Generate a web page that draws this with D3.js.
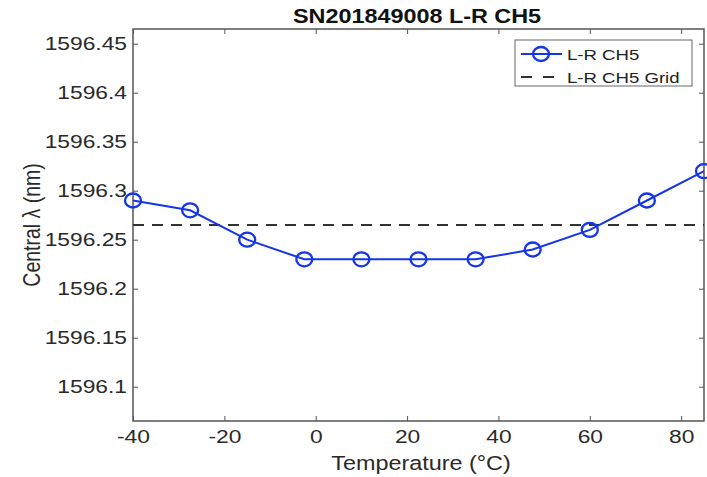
<!DOCTYPE html>
<html>
<head>
<meta charset="utf-8">
<script src="https://cdn.jsdelivr.net/npm/d3@7"></script>
<style>
  html, body { margin: 0; padding: 0; background: #fff; }
  svg { display: block; }
  text { font-family: "Liberation Sans", Arial, Helvetica, sans-serif; }
</style>
</head>
<body>
<svg id="chart" width="707" height="477"></svg>
<script>
// Measured central wavelength (nm) of L-R CH5 against temperature (°C)
const temperatures = [-40, -27.5, -15, -2.5, 10, 22.5, 35, 47.5, 60, 72.5, 85];
const wavelengths = [1596.29, 1596.28, 1596.25, 1596.23, 1596.23, 1596.23, 1596.23, 1596.24, 1596.26, 1596.29, 1596.32];
// ITU grid wavelength for the channel
const gridWavelength = [1596.265];
const xTicks = [-40, -20, 0, 20, 40, 60, 80];
const yTicks = [1596.1, 1596.15, 1596.2, 1596.25, 1596.3, 1596.35, 1596.4, 1596.45];
const seriesNames = ["L-R CH5", "L-R CH5 Grid"];

const svg = d3.select("#chart");
const margin = { left: 133, right: 3, top: 29, bottom: 56 };
const W = 707, H = 477;
const x = d3.scaleLinear().domain([-40, 85]).range([margin.left, W - margin.right]);
const y = d3.scaleLinear().domain([1596.065, 1596.465]).range([H - margin.bottom, margin.top]);

const axisColor = "#555";
const tickLen = 5;
const blue = "#1535e8";
const stretch = "scale(1.2,1)";   // wide text, as in the exported figure

// plot box
svg.append("rect")
  .attr("x", x.range()[0]).attr("y", y.range()[1])
  .attr("width", x.range()[1] - x.range()[0])
  .attr("height", y.range()[0] - y.range()[1])
  .attr("fill", "#fff").attr("stroke", axisColor).attr("stroke-width", 1.5);

function styleAxis(g) {
  g.select(".domain").remove();
  g.selectAll(".tick line").attr("stroke", axisColor).attr("stroke-width", 1);
  g.selectAll(".tick text").attr("fill", "#2a2a2a").attr("font-size", 19).attr("transform", stretch);
}

// bottom axis (ticks pointing inward), plain hyphen for negatives
svg.append("g")
  .attr("transform", `translate(0,${y.range()[0]})`)
  .call(d3.axisBottom(x).tickValues(xTicks).tickSizeInner(-tickLen).tickSizeOuter(0).tickPadding(9).tickFormat(d => String(d)))
  .call(styleAxis);
// top ticks
svg.append("g")
  .attr("transform", `translate(0,${y.range()[1]})`)
  .call(d3.axisTop(x).tickValues(xTicks).tickSizeInner(-tickLen).tickSizeOuter(0).tickFormat(""))
  .call(styleAxis);
// left axis
svg.append("g")
  .attr("transform", `translate(${x.range()[0]},0)`)
  .call(d3.axisLeft(y).tickValues(yTicks).tickSizeInner(-tickLen).tickSizeOuter(0).tickPadding(5).tickFormat(d => String(+d.toFixed(2))))
  .call(styleAxis);
// right ticks
svg.append("g")
  .attr("transform", `translate(${x.range()[1]},0)`)
  .call(d3.axisRight(y).tickValues(yTicks).tickSizeInner(-tickLen).tickSizeOuter(0).tickFormat(""))
  .call(styleAxis);

// grid wavelength reference line
svg.append("line")
  .attr("x1", x.range()[0]).attr("x2", x.range()[1])
  .attr("y1", y(gridWavelength[0])).attr("y2", y(gridWavelength[0]))
  .attr("stroke", "#333").attr("stroke-width", 2.2).attr("stroke-dasharray", "11,8");

const data = temperatures.map((t, i) => ({ t, w: wavelengths[i] }));

svg.append("path")
  .datum(data)
  .attr("fill", "none").attr("stroke", blue).attr("stroke-width", 2)
  .attr("d", d3.line().x(d => x(d.t)).y(d => y(d.w)));

svg.append("g").selectAll("ellipse").data(data).join("ellipse")
  .attr("cx", d => x(d.t)).attr("cy", d => y(d.w))
  .attr("rx", 8).attr("ry", 7)
  .attr("fill", "none").attr("stroke", blue).attr("stroke-width", 2.3);

// title
svg.append("text")
  .attr("transform", `translate(417,23) ${stretch}`)
  .attr("text-anchor", "middle").attr("font-size", 19.5).attr("font-weight", "bold").attr("fill", "#111")
  .text("SN201849008 L-R CH5");

// axis labels
svg.append("text")
  .attr("transform", `translate(421,470) ${stretch}`)
  .attr("text-anchor", "middle").attr("font-size", 19.5).attr("fill", "#2a2a2a")
  .text("Temperature (°C)");
svg.append("text")
  .attr("transform", "translate(40,225) rotate(-90) scale(1,1.2)")
  .attr("text-anchor", "middle").attr("font-size", 19.5).attr("fill", "#2a2a2a")
  .text("Central λ (nm)");

// legend
const lg = svg.append("g").attr("transform", "translate(515,40)");
lg.append("rect").attr("width", 177).attr("height", 46)
  .attr("fill", "#fff").attr("stroke", "#666").attr("stroke-width", 1);
lg.append("line").attr("x1", 6).attr("x2", 47).attr("y1", 14).attr("y2", 14)
  .attr("stroke", blue).attr("stroke-width", 2);
lg.append("ellipse").attr("cx", 26).attr("cy", 14).attr("rx", 8).attr("ry", 7)
  .attr("fill", "none").attr("stroke", blue).attr("stroke-width", 2.3);
lg.append("line").attr("x1", 6).attr("x2", 39).attr("y1", 37).attr("y2", 37)
  .attr("stroke", "#333").attr("stroke-width", 2.2).attr("stroke-dasharray", "11,11");
lg.selectAll("text.lbl").data(seriesNames).join("text")
  .attr("class", "lbl")
  .attr("transform", (d, i) => `translate(52,${20 + i * 23}) ${stretch}`)
  .attr("font-size", 15.5).attr("fill", "#222")
  .text(d => d);
</script>
</body>
</html>
